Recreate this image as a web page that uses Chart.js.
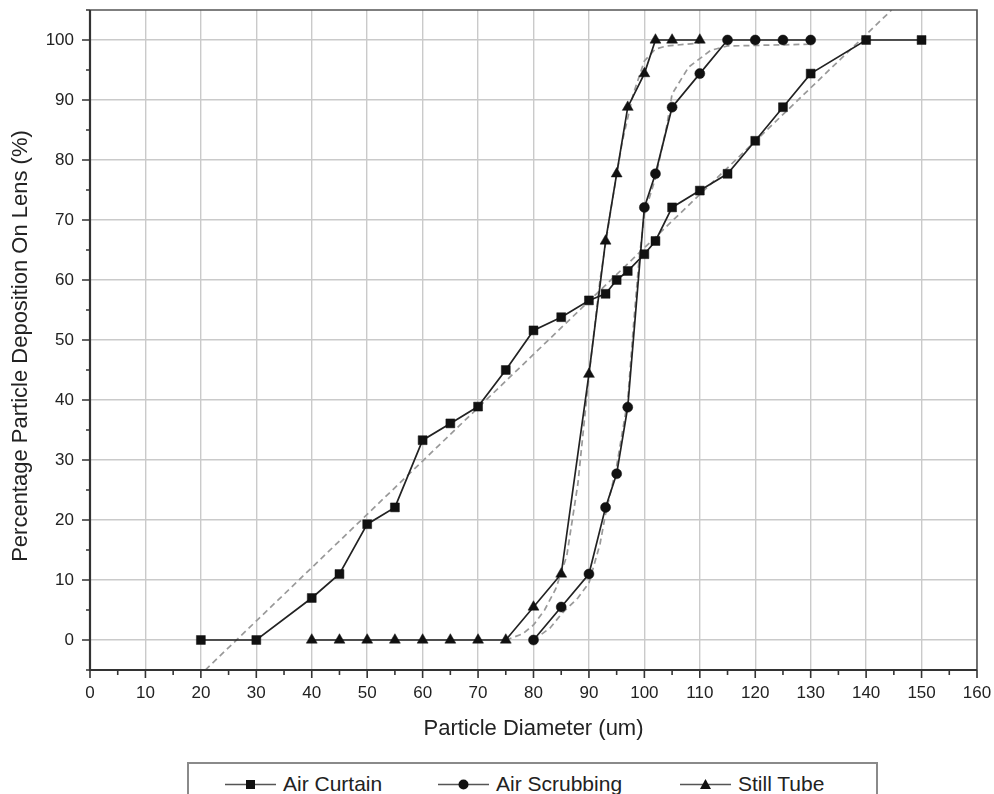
<!DOCTYPE html>
<html>
<head>
<meta charset="utf-8">
<script src="https://cdn.jsdelivr.net/npm/chart.js@4.4.1/dist/chart.umd.min.js"></script>
<style>
  html, body { margin: 0; padding: 0; background: #fff; }
  #wrap { position: relative; width: 994px; height: 794px; overflow: hidden; background: #fff; }
  #chartBox { position: absolute; left: 0; top: 0; width: 994px; height: 760px; }
  #legend { position: absolute; left: 187px; top: 762px; width: 691px; height: 60px;
            border: 2px solid #8a8a8a; box-sizing: border-box; }
  .item { position: absolute; top: 8px; height: 24px; display: flex; align-items: center;
          font-family: "Liberation Sans", Arial, sans-serif; font-size: 21px; color: #222; }
  .item svg { margin-right: 7px; }
</style>
</head>
<body>
<div id="wrap">
  <div id="chartBox"><canvas id="c"></canvas></div>
  <div id="legend"></div>
</div>
<script>
// ---------- data ----------
const seriesNames = ["Air Curtain", "Air Scrubbing", "Still Tube"];

const curtainX = [20, 30, 40, 45, 50, 55, 60, 65, 70, 75, 80, 85, 90, 93, 95, 97, 100, 102, 105, 110, 115, 120, 125, 130, 140, 150];
const curtainY = [0, 0, 7.0, 11.0, 19.3, 22.1, 33.3, 36.1, 38.9, 45.0, 51.6, 53.8, 56.6, 57.7, 60.0, 61.5, 64.3, 66.5, 72.1, 74.9, 77.7, 83.2, 88.8, 94.4, 100, 100];

const scrubX = [80, 85, 90, 93, 95, 97, 100, 102, 105, 110, 115, 120, 125, 130];
const scrubY = [0, 5.5, 11.0, 22.1, 27.7, 38.8, 72.1, 77.7, 88.8, 94.4, 100, 100, 100, 100];

const tubeX = [40, 45, 50, 55, 60, 65, 70, 75, 80, 85, 90, 93, 95, 97, 100, 102, 105, 110];
const tubeY = [0, 0, 0, 0, 0, 0, 0, 0, 5.5, 11.0, 44.3, 66.5, 77.7, 88.8, 94.4, 100, 100, 100];

// dashed fitted curves
const curtainFitX = [20.8, 144.6];
const curtainFitY = [-5, 105];
const scrubFitX = [80, 83, 85, 88, 90, 92, 93, 95, 97, 98, 99, 100, 102, 104, 105, 108, 112, 115, 130];
const scrubFitY = [0, 2, 4.3, 7, 9.5, 16, 21, 29, 40, 52, 63, 71, 77, 85.5, 91, 95.5, 98.3, 99, 99.3];
const tubeFitX = [75, 78, 80, 82, 84, 86, 88, 90, 92, 94, 96, 98, 100, 102, 104, 110];
const tubeFitY = [0, 1, 2.5, 5, 8.5, 14, 26, 44, 60, 72, 83, 91, 96.5, 98.5, 99, 99.5];

const xTickValues = [0, 10, 20, 30, 40, 50, 60, 70, 80, 90, 100, 110, 120, 130, 140, 150, 160];
const yTickValues = [0, 10, 20, 30, 40, 50, 60, 70, 80, 90, 100];

const xTitle = "Particle Diameter (um)";
const yTitle = "Percentage Particle Deposition On Lens (%)";

// ---------- helpers ----------
const pts = (xs, ys) => xs.map((x, i) => ({ x: x, y: ys[i] }));
const FONT = '"Liberation Sans", Arial, sans-serif';
const LINE = '#222';
const MARK = '#111';
const FIT = '#999';
const GRID = '#cacaca';

const fitDS = (label, xs, ys) => ({
  label: label, data: pts(xs, ys), borderColor: FIT, borderWidth: 1.7,
  borderDash: [6, 4], pointRadius: 0, fill: false, tension: 0, order: 5
});
const dataDS = (label, xs, ys, style, r) => ({
  label: label, data: pts(xs, ys), borderColor: LINE, borderWidth: 1.7,
  backgroundColor: MARK, pointBackgroundColor: MARK, pointBorderColor: MARK,
  pointStyle: style, pointRadius: r, pointBorderWidth: 0.5, fill: false, tension: 0, order: 1
});

// tick marks, frame and axis titles
const framePlugin = {
  id: 'frame',
  afterDraw(chart) {
    const { ctx, chartArea: a, scales } = chart;
    const xs = scales.x, ys = scales.y;
    ctx.save();
    ctx.strokeStyle = '#555';
    ctx.lineWidth = 1.6;
    ctx.beginPath();
    ctx.moveTo(a.left, a.top); ctx.lineTo(a.right, a.top); ctx.lineTo(a.right, a.bottom);
    ctx.stroke();
    ctx.strokeStyle = '#333';
    ctx.lineWidth = 2.2;
    ctx.beginPath();
    ctx.moveTo(a.left, a.top); ctx.lineTo(a.left, a.bottom); ctx.lineTo(a.right, a.bottom);
    ctx.stroke();
    ctx.lineWidth = 1.6;
    ctx.beginPath();
    for (let v = 0; v <= 160; v += 5) {
      const px = xs.getPixelForValue(v);
      const len = (v % 10 === 0) ? 8 : 5;
      ctx.moveTo(px, a.bottom); ctx.lineTo(px, a.bottom + len);
    }
    for (let v = -5; v <= 105; v += 5) {
      const py = ys.getPixelForValue(v);
      const len = (v % 10 === 0) ? 8 : 4;
      ctx.moveTo(a.left, py); ctx.lineTo(a.left - len, py);
    }
    ctx.stroke();
    ctx.fillStyle = '#222';
    ctx.font = '22px ' + FONT;
    ctx.textAlign = 'center';
    ctx.textBaseline = 'middle';
    ctx.fillText(xTitle, (a.left + a.right) / 2, 729);
    ctx.translate(21, (a.top + a.bottom) / 2 + 6);
    ctx.rotate(-Math.PI / 2);
    ctx.fillText(yTitle, 0, 0);
    ctx.restore();
  }
};

new Chart(document.getElementById('c'), {
  type: 'line',
  data: {
    datasets: [
      fitDS('Air Curtain fit', curtainFitX, curtainFitY),
      fitDS('Air Scrubbing fit', scrubFitX, scrubFitY),
      fitDS('Still Tube fit', tubeFitX, tubeFitY),
      dataDS(seriesNames[0], curtainX, curtainY, 'rect', 6.3),
      dataDS(seriesNames[1], scrubX, scrubY, 'circle', 5),
      dataDS(seriesNames[2], tubeX, tubeY, 'triangle', 6.3)
    ]
  },
  options: {
    responsive: true,
    maintainAspectRatio: false,
    animation: false,
    layout: { padding: { top: 10, right: 17, left: 0, bottom: 0 } },
    plugins: { legend: { display: false }, tooltip: { enabled: false } },
    scales: {
      x: {
        type: 'linear', min: 0, max: 160,
        afterBuildTicks(s) { s.ticks = xTickValues.map(v => ({ value: v })); },
        afterFit(s) { s.height = 90; s.paddingLeft = 0; s.paddingRight = 0; },
        ticks: { autoSkip: false, maxRotation: 0, padding: 13, color: '#222',
                 font: { family: FONT, size: 17 } },
        grid: { color: GRID, lineWidth: 1.4, drawTicks: false },
        border: { display: false }
      },
      y: {
        type: 'linear', min: -5, max: 105,
        afterBuildTicks(s) { s.ticks = yTickValues.map(v => ({ value: v })); },
        afterFit(s) { s.width = 90; s.paddingTop = 0; s.paddingBottom = 0; },
        ticks: { autoSkip: false, padding: 16, color: '#222',
                 font: { family: FONT, size: 17 } },
        grid: { color: GRID, lineWidth: 1.4, drawTicks: false },
        border: { display: false }
      }
    }
  },
  plugins: [framePlugin]
});

// ---------- legend ----------
const legendItems = [
  { name: seriesNames[0], shape: 'rect', left: 36 },
  { name: seriesNames[1], shape: 'circle', left: 249 },
  { name: seriesNames[2], shape: 'tri', left: 491 }
];
const legend = document.getElementById('legend');
legendItems.forEach(it => {
  const d = document.createElement('div');
  d.className = 'item';
  d.style.left = it.left + 'px';
  let mk = '';
  if (it.shape === 'rect') mk = '<rect x="21" y="8" width="9" height="9" fill="#111"/>';
  if (it.shape === 'circle') mk = '<circle cx="25.5" cy="12.5" r="5" fill="#111"/>';
  if (it.shape === 'tri') mk = '<polygon points="25.5,7 31,17 20,17" fill="#111"/>';
  d.innerHTML = '<svg width="51" height="24" viewBox="0 0 51 24"><line x1="0" y1="12.5" x2="51" y2="12.5" stroke="#555" stroke-width="1.5"/>' + mk + '</svg><span></span>';
  d.querySelector('span').textContent = it.name;
  legend.appendChild(d);
});
</script>
</body>
</html>
